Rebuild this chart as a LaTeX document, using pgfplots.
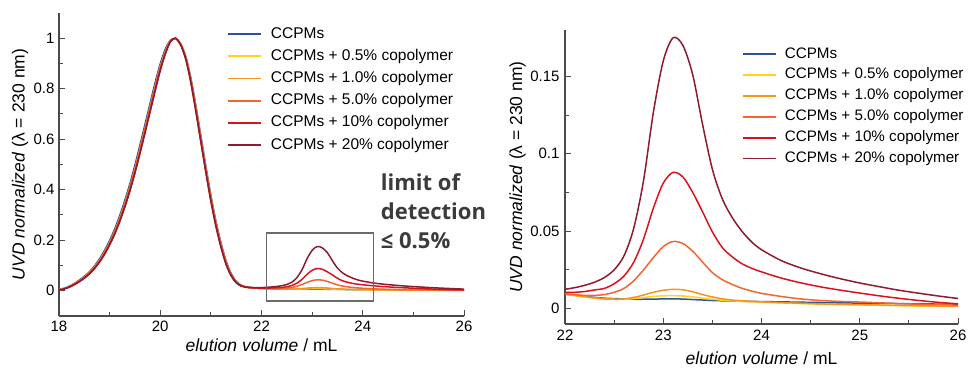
\documentclass[border=0pt]{standalone}
\usepackage{pgfplots}
\pgfplotsset{compat=1.18}
\usepackage{pgfplotstable}
\usepackage{fontspec}
\setmainfont{Liberation Sans}
\newfontfamily\osans{Open Sans}
\definecolor{cB}{HTML}{2654A0}
\definecolor{cY}{HTML}{FFD320}
\definecolor{cO}{HTML}{F7941D}
\definecolor{cR5}{HTML}{F26430}
\definecolor{cR}{HTML}{D7141E}
\definecolor{cD}{HTML}{8E1B2E}
\definecolor{axgray}{HTML}{4A4A4A}
\definecolor{boxgray}{HTML}{6B6B6B}
\definecolor{txtgray}{HTML}{3B3B3B}
\begin{document}
\pgfplotstableread{
x     s0      s05     s1      s5      s10     s20
18.0  0.005   0.004   0.004   0.004   0.003   0.003
18.1  0.010   0.008   0.008   0.008   0.007   0.007
18.2  0.018   0.016   0.016   0.016   0.014   0.014
18.3  0.029   0.027   0.027   0.027   0.024   0.024
18.4  0.042   0.039   0.039   0.039   0.036   0.036
18.5  0.057   0.053   0.053   0.053   0.050   0.050
18.6  0.075   0.071   0.071   0.071   0.067   0.067
18.7  0.098   0.093   0.093   0.093   0.088   0.088
18.8  0.126   0.120   0.120   0.120   0.114   0.114
18.9  0.160   0.152   0.152   0.152   0.145   0.145
19.0  0.199   0.190   0.190   0.190   0.182   0.182
19.1  0.245   0.235   0.235   0.235   0.225   0.225
19.2  0.298   0.286   0.286   0.286   0.275   0.275
19.3  0.358   0.345   0.345   0.345   0.332   0.332
19.4  0.424   0.410   0.410   0.410   0.396   0.396
19.5  0.498   0.482   0.482   0.482   0.467   0.467
19.6  0.578   0.561   0.561   0.561   0.545   0.545
19.7  0.660   0.643   0.643   0.643   0.627   0.627
19.8  0.743   0.726   0.726   0.726   0.710   0.710
19.9  0.825   0.809   0.809   0.809   0.793   0.793
20.0  0.899   0.886   0.886   0.886   0.873   0.873
20.1  0.957   0.947   0.947   0.947   0.938   0.938
20.2  0.992   0.989   0.989   0.989   0.986   0.986
20.3  0.999   1.000   1.000   1.000   1.000   1.000
20.4  0.980   0.978   0.978   0.978   0.975   0.975
20.5  0.931   0.926   0.926   0.926   0.920   0.920
20.6  0.848   0.839   0.839   0.839   0.830   0.830
20.7  0.738   0.727   0.727   0.727   0.715   0.715
20.8  0.617   0.605   0.605   0.605   0.593   0.593
20.9  0.495   0.483   0.483   0.483   0.471   0.471
21.0  0.379   0.368   0.368   0.368   0.356   0.356
21.1  0.276   0.266   0.266   0.266   0.256   0.256
21.2  0.190   0.182   0.182   0.182   0.173   0.173
21.3  0.119   0.112   0.112   0.112   0.105   0.105
21.4  0.069   0.065   0.065   0.065   0.060   0.060
21.5  0.038   0.035   0.035   0.035   0.032   0.032
21.6  0.022   0.020   0.020   0.020   0.019   0.019
21.7  0.015   0.014   0.014   0.014   0.0140  0.0145
21.8  0.012   0.0115  0.0115  0.0115  0.0120  0.0130
21.9  0.0105  0.0100  0.0100  0.0100  0.0110  0.0125
22.0  0.0092  0.0093  0.0095  0.0095  0.0105  0.0125
22.1  0.0085  0.0083  0.0085  0.0090  0.0105  0.0135
22.2  0.0078  0.0075  0.0076  0.0085  0.0110  0.0150
22.3  0.0072  0.0068  0.0068  0.0085  0.0120  0.0170
22.4  0.0067  0.0063  0.0062  0.0090  0.0130  0.0200
22.5  0.0064  0.0060  0.0059  0.0105  0.0160  0.0250
22.6  0.0062  0.0060  0.0062  0.0130  0.0210  0.0340
22.7  0.0060  0.0064  0.0072  0.0180  0.0300  0.0520
22.8  0.0060  0.0071  0.0087  0.0250  0.0450  0.0830
22.9  0.0061  0.0078  0.0105  0.0330  0.0650  0.1270
23.0  0.0062  0.0082  0.0118  0.0400  0.0810  0.1600
23.1  0.0063  0.0083  0.0124  0.0433  0.0880  0.1750
23.2  0.0061  0.0081  0.0121  0.0420  0.0850  0.1700
23.3  0.0058  0.0075  0.0108  0.0370  0.0750  0.1510
23.4  0.0055  0.0067  0.0090  0.0300  0.0625  0.1190
23.5  0.0052  0.0060  0.0075  0.0232  0.0495  0.0900
23.6  0.0050  0.0054  0.0063  0.0187  0.0395  0.0710
23.7  0.0049  0.0050  0.0055  0.0156  0.0335  0.0590
23.8  0.0047  0.0046  0.0050  0.0131  0.0290  0.0500
23.9  0.0046  0.0043  0.0046  0.0113  0.0260  0.0430
24.0  0.0045  0.0041  0.0043  0.0098  0.0237  0.0380
24.2  0.0043  0.0036  0.0038  0.0078  0.0197  0.0310
24.4  0.0041  0.0032  0.0034  0.0062  0.0166  0.0262
24.6  0.0039  0.0028  0.0030  0.0052  0.0140  0.0225
24.8  0.0037  0.0025  0.0027  0.0046  0.0119  0.0193
25.0  0.0035  0.0023  0.0025  0.0042  0.0100  0.0165
25.2  0.0034  0.0021  0.0023  0.0037  0.0082  0.0141
25.4  0.0032  0.0018  0.0020  0.0032  0.0066  0.0118
25.6  0.0030  0.0016  0.0018  0.0028  0.0052  0.0099
25.8  0.0029  0.0015  0.0016  0.0025  0.0040  0.0081
26.0  0.0027  0.0013  0.0015  0.0022  0.0030  0.0065
}\data
\begin{tikzpicture}
\path[use as bounding box] (0,0) rectangle (968bp,369bp);
\pgfplotsset{
  common/.style={
    scale only axis,
    anchor=south west,
    axis lines*=left,
    axis line style={axgray, line width=1.2bp},
    tick align=inside,
    major tick length=6bp,
    minor tick length=4bp,
    every tick/.style={axgray, line width=1bp},
    every minor tick/.style={axgray, line width=1bp},
    tick label style={font=\fontsize{15bp}{18bp}\selectfont, text=black},
    /pgf/number format/assume math mode=true,
    scaled y ticks=false,
    yticklabel style={/pgf/number format/fixed},
    label style={font=\fontsize{17.5bp}{20bp}\selectfont},
    xlabel={\textit{elution volume} / mL},
    ylabel={\textit{UVD normalized} (λ = 230 nm)},
    legend cell align=left,
    legend image code/.code={\draw[##1,line width=1.8bp] (0bp,0bp) -- (33bp,0bp);},
    every axis plot/.append style={line width=1.5bp, smooth},
  }
}
\begin{axis}[common,
  at={(59bp,53bp)}, width=405bp, height=303bp,
  xmin=18, xmax=26, ymin=-0.1, ymax=1.1,
  xtick={18,20,22,24,26}, minor x tick num=1,
  ytick={0,0.2,0.4,0.6,0.8,1}, minor y tick num=1,
  xticklabel style={yshift=-2bp},
  yticklabel style={xshift=-1bp},
  xlabel style={at={(axis description cs:0.5,-0.1188)}, anchor=base},
  ylabel style={at={(axis description cs:-0.0963,0.5)}, anchor=center},
  legend style={draw=none, fill=none, inner sep=0pt, outer sep=0pt,
    at={(0.415,0.955)}, anchor=north west,
    font=\fontsize{15.5bp}{18bp}\selectfont, row sep=7.2bp, column sep=9bp,
    nodes={inner sep=0pt, text height=11.5bp, text depth=3.5bp}},
]
\addplot[cB] table[x=x,y=s0] {\data};
\addlegendentry{CCPMs}
\addplot[cY] table[x=x,y=s05] {\data};
\addlegendentry{CCPMs + 0.5\% copolymer}
\addplot[cO] table[x=x,y=s1] {\data};
\addlegendentry{CCPMs + 1.0\% copolymer}
\addplot[cR5] table[x=x,y=s5] {\data};
\addlegendentry{CCPMs + 5.0\% copolymer}
\addplot[cR] table[x=x,y=s10] {\data};
\addlegendentry{CCPMs + 10\% copolymer}
\addplot[cD] table[x=x,y=s20] {\data};
\addlegendentry{CCPMs + 20\% copolymer}
\draw[boxgray, line width=1.4bp] (axis cs:22.1,-0.041) rectangle (axis cs:24.21,0.229);
\end{axis}
\begin{axis}[common,
  at={(565bp,45bp)}, width=393bp, height=294bp,
  xmin=22, xmax=26, ymin=-0.01, ymax=0.18,
  xtick={22,23,24,25,26}, minor x tick num=1,
  ytick={0,0.05,0.1,0.15}, minor y tick num=1,
  xticklabel style={yshift=-3bp},
  yticklabel style={xshift=-2bp},
  xlabel style={at={(axis description cs:0.5,-0.139)}, anchor=base},
  ylabel style={at={(axis description cs:-0.1209,0.5)}, anchor=center},
  legend style={draw=none, fill=none, inner sep=0pt, outer sep=0pt,
    at={(0.4496,0.9436)}, anchor=north west,
    font=\fontsize{15.2bp}{18bp}\selectfont, row sep=5.9bp, column sep=8.4bp,
    nodes={inner sep=0pt, text height=11.5bp, text depth=3.5bp}},
]
\addplot[cB] table[x=x,y=s0] {\data};
\addlegendentry{CCPMs}
\addplot[cY] table[x=x,y=s05] {\data};
\addlegendentry{CCPMs + 0.5\% copolymer}
\addplot[cO] table[x=x,y=s1] {\data};
\addlegendentry{CCPMs + 1.0\% copolymer}
\addplot[cR5] table[x=x,y=s5] {\data};
\addlegendentry{CCPMs + 5.0\% copolymer}
\addplot[cR] table[x=x,y=s10] {\data};
\addlegendentry{CCPMs + 10\% copolymer}
\addplot[cD] table[x=x,y=s20] {\data};
\addlegendentry{CCPMs + 20\% copolymer}
\end{axis}
\begin{scope}[every node/.style={anchor=base west, inner sep=0pt, text=txtgray, font=\osans\bfseries\fontsize{22bp}{29bp}\selectfont}]
\node at (380.7bp,178bp) {limit of};
\node at (380.7bp,149bp) {detection};
\node at (380.7bp,120bp) {≤ 0.5\%};
\end{scope}
\end{tikzpicture}
\end{document}
